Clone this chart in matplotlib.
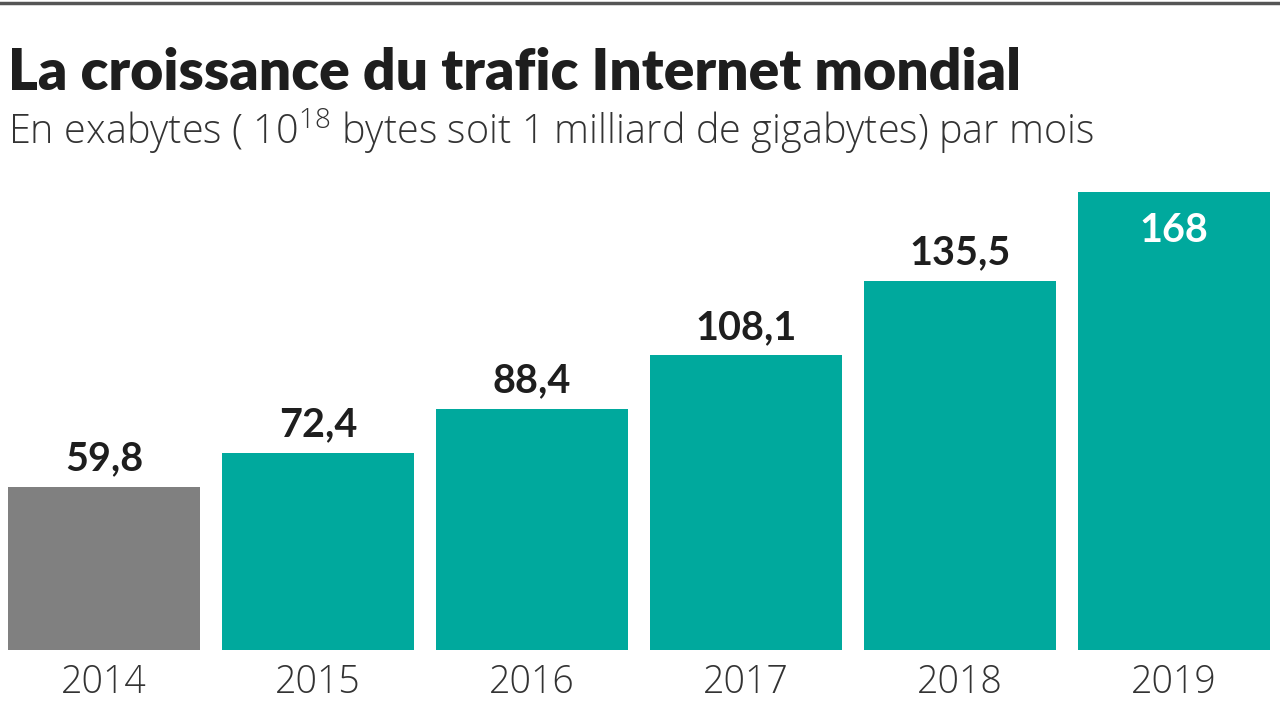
import matplotlib
matplotlib.use('Agg')
import matplotlib.pyplot as plt
import numpy as np

# data
years = ['2014', '2015', '2016', '2017', '2018', '2019']
traffic = [59.8, 72.4, 88.4, 108.1, 135.5, 168]
value_labels = ['59,8', '72,4', '88,4', '108,1', '135,5', '168']

teal = '#00a99d'
grey = '#808080'
dark = '#1e1e1e'

plt.rcParams['font.family'] = ['Lato', 'DejaVu Sans']
plt.rcParams['mathtext.fontset'] = 'custom'
plt.rcParams['mathtext.rm'] = 'Open Sans:light'

light_font = ['Open Sans', 'DejaVu Sans']

fig = plt.figure(figsize=(12.8, 7.2), dpi=100)

# axes placement in pixels: baseline at y=650, 168 at y=192
base_px = 650
top_px = 180
px_per_unit = (650 - 192) / 168.0
ax = fig.add_axes([0, (720 - base_px) / 720, 1, (base_px - top_px) / 720])
ax.set_ylim(0, (base_px - top_px) / px_per_unit)

x = np.arange(len(years))
# bar centres at pixel 104 + 214*i
ax.set_xlim(-104 / 214, (1280 - 104) / 214)

cols = [grey] + [teal] * (len(years) - 1)
ax.bar(x, traffic, width=0.9, color=cols, edgecolor='none')

for i, (v, lab) in enumerate(zip(traffic, value_labels)):
    if i == len(years) - 1:
        ax.text(i, v - 7.5, lab, ha='center', va='top', fontsize=28.5,
                fontweight='bold', color='white')
    else:
        ax.text(i, v + 3.5, lab, ha='center', va='bottom', fontsize=28.5,
                fontweight='bold', color=dark)

for i, y in enumerate(years):
    ax.text(i, -5, y, ha='center', va='top', fontsize=27, family=light_font,
            fontweight='light', color='#333333')

ax.axis('off')

# top rule
fig.add_artist(plt.Line2D([0, 1], [1 - 3 / 720, 1 - 3 / 720], color='#555555', lw=2.5))

fig.text(8 / 1280, 1 - 73 / 720, 'La croissance du trafic Internet mondial',
         fontsize=41, fontweight='heavy', color=dark, va='center', ha='left')
fig.text(8 / 1280, 1 - 131 / 720,
         r'En exabytes ( $\mathregular{10^{18}}$ bytes soit 1 milliard de gigabytes) par mois',
         fontsize=28.5, family=light_font, fontweight='light', color='#333333',
         va='center', ha='left')

fig.savefig('out.png', dpi=100, facecolor='white')
